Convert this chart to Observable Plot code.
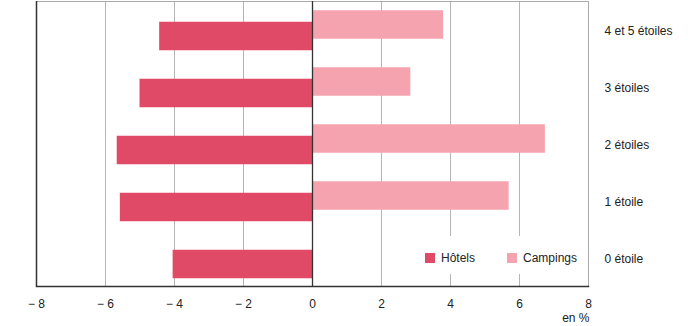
<!DOCTYPE html>
<html>
<head>
<meta charset="utf-8">
<script src="https://cdn.jsdelivr.net/npm/d3@7"></script>
<script src="https://cdn.jsdelivr.net/npm/@observablehq/plot@0.6"></script>
<style>
  html, body { margin: 0; padding: 0; background: #fff; }
  #chart { position: relative; width: 700px; height: 326px; font-family: "Liberation Sans", Arial, sans-serif; }
  #legend { position: absolute; left: 415px; top: 236px; width: 168px; height: 38px; background: #fff;
            font-size: 12px; color: #222; }
  .sw { position: absolute; width: 10px; height: 10px; top: 17px; }
  .lt { position: absolute; top: 15px; line-height: 14px; }
</style>
</head>
<body>
<div id="chart"></div>
<script>
const categories = ["4 et 5 étoiles", "3 étoiles", "2 étoiles", "1 étoile", "0 étoile"];
const hotels = [-4.43, -5.0, -5.66, -5.57, -4.04];
const campings = [3.80, 2.85, 6.75, 5.70, null];
const seriesNames = ["Hôtels", "Campings"];
const seriesColors = ["#e14a67", "#f5a3ae"];
const xTicks = [-8, -6, -4, -2, 0, 2, 4, 6, 8];
const gridTicks = [-6, -4, -2, 2, 4, 6];

const hotelData = categories.map((c, i) => ({cat: c, v: hotels[i]}));
const campData = categories.map((c, i) => ({cat: c, v: campings[i]})).filter(d => d.v != null);

const fmt = d => d < 0 ? "\u2212 " + Math.abs(d) : String(d);

const chart = Plot.plot({
  width: 700,
  height: 326,
  marginLeft: 36,
  marginRight: 112,
  marginTop: 1,
  marginBottom: 40,
  style: {fontFamily: '"Liberation Sans", Arial, sans-serif', fontSize: "12px", color: "#222", background: "#fff"},
  x: {domain: [-8, 8]},
  y: {domain: categories, padding: 0},
  marks: [
    Plot.ruleX(gridTicks, {stroke: "#b5b5b5", strokeWidth: 1}),
    Plot.frame({stroke: "#aaaaaa"}),
    Plot.barX(campData, {x: "v", y: "cat", fill: seriesColors[1], insetTop: 14.25, insetBottom: 14.25, dy: -5}),
    Plot.barX(hotelData, {x: "v", y: "cat", fill: seriesColors[0], insetTop: 14.25, insetBottom: 14.25, dy: 6.5}),
    Plot.ruleX([0], {stroke: "#333", strokeWidth: 1.3}),
    Plot.ruleX([-8], {stroke: "#333", strokeWidth: 1.5}),
    Plot.frame({anchor: "bottom", stroke: "#333", strokeWidth: 1.5}),
    Plot.axisX({ticks: xTicks, tickFormat: fmt, tickSize: 0, tickPadding: 13, label: null}),
    Plot.axisY({anchor: "right", tickSize: 0, tickPadding: 16, label: null, dy: 1}),
    Plot.text(["en %"], {frameAnchor: "bottom-right", dy: 35, dx: 1, textAnchor: "end"})
  ]
});
const root = document.getElementById("chart");
root.appendChild(chart);

const legend = document.createElement("div");
legend.id = "legend";
const items = [
  {name: seriesNames[0], color: seriesColors[0], sx: 10, tx: 26},
  {name: seriesNames[1], color: seriesColors[1], sx: 92, tx: 108}
];
for (const it of items) {
  const sw = document.createElement("div");
  sw.className = "sw"; sw.style.left = it.sx + "px"; sw.style.background = it.color;
  const t = document.createElement("div");
  t.className = "lt"; t.style.left = it.tx + "px"; t.textContent = it.name;
  legend.appendChild(sw); legend.appendChild(t);
}
root.appendChild(legend);
</script>
</body>
</html>
